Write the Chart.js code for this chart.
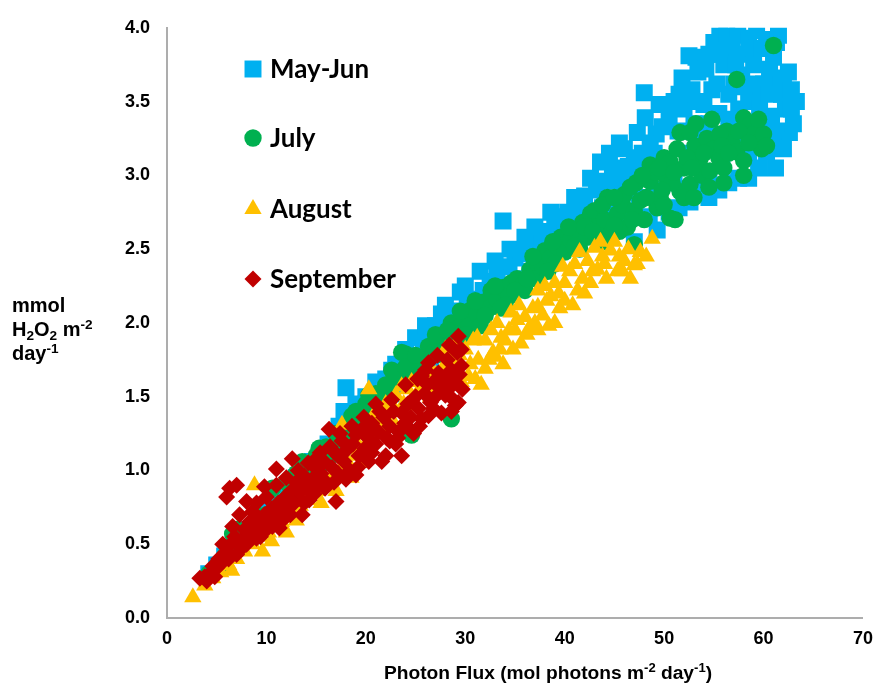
<!DOCTYPE html>
<html><head><meta charset="utf-8">
<script src="https://cdn.jsdelivr.net/npm/chart.js@4/dist/chart.umd.min.js"></script>
<style>html,body{margin:0;padding:0;background:#fff}#wrap{width:883px;height:687px;position:relative}</style>
</head><body><div id="wrap"><canvas id="c" width="883" height="687"></canvas></div>
<script>
const seriesNames = ['May-Jun', 'July', 'August', 'September'];
const seriesColors = ['#00B0F0', '#00B050', '#FFC000', '#C00000'];
const xTicks = [0, 10, 20, 30, 40, 50, 60, 70];
const yTicks = [0, 0.5, 1.0, 1.5, 2.0, 2.5, 3.0, 3.5, 4.0];

const mayJun = [
 [4.2,0.30],[5.0,0.36],[5.8,0.42],[6.6,0.48],[7.4,0.55],[8.2,0.60],[9.0,0.66],[9.8,0.72],[10.6,0.78],[11.4,0.84],
 [12.2,0.89],[13.0,0.95],[13.8,1.00],[14.6,1.06],[15.4,1.12],[16.2,1.18],[17.0,1.25],[17.3,1.30],[18.0,1.56],[18.4,1.35],
 [19.2,1.40],[20.0,1.45],[20.8,1.50],[21.5,1.55],[22.0,1.62],[22.6,1.68],[23.4,1.66],[24.2,1.72],[25.0,1.78],[25.8,1.82],
 [26.5,1.90],[27.0,1.98],[27.6,2.06],[28.4,2.02],[29.0,2.08],[29.5,2.21],[30.2,2.12],[31.0,2.16],[31.8,2.22],[32.5,2.28],
 [33.2,2.32],[33.8,2.69],[34.4,2.38],[35.0,2.44],[35.6,2.49],[36.3,2.47],[37.0,2.52],[37.6,2.58],[38.6,2.75],[38.4,2.62],
 [39.2,2.64],[40.0,2.68],[40.3,2.75],[41.0,2.70],[41.6,2.78],[42.0,2.86],[42.6,2.98],[43.2,2.90],[43.6,3.09],[44.2,2.96],
 [44.8,3.05],[45.4,2.98],[46.0,3.18],[46.4,3.06],[47.0,3.12],[47.3,3.29],[47.8,3.15],[48.1,3.39],[48.0,3.56],[48.6,3.22],
 [49.2,3.28],[49.8,3.33],[50.5,3.40],[51.0,3.50],[51.8,3.66],[51.4,3.30],[52.0,3.45],[52.5,3.81],[52.8,3.58],[53.4,3.70],
 [53.8,3.50],[55.6,3.97],[54.5,3.82],[55.0,3.90],[55.3,3.62],[56.0,3.75],[56.3,3.96],[56.8,3.86],[57.4,3.95],[57.8,3.68],
 [58.2,3.82],[58.5,3.93],[59.0,3.75],[59.3,3.98],[59.8,3.86],[60.3,3.92],[60.6,3.72],[61.3,3.90],[61.3,3.66],[61.8,3.55],
 [62.2,3.45],[62.8,3.45],[63.3,3.50],[62.6,3.29],[61.8,3.30],[60.3,3.16],[60.8,3.40],[59.5,3.55],[58.5,3.50],[57.5,3.45],
 [56.5,3.55],[55.5,3.42],[54.5,3.35],[53.6,3.25],[52.6,3.15],[53.6,2.92],[52.6,2.82],[54.5,3.00],[55.8,3.10],[57.0,3.20],
 [58.5,3.15],[59.8,3.25],[61.0,3.20],[51.0,2.95],[50.0,3.05],[49.3,2.63],[49.0,2.90],[47.5,2.85],[47.0,2.55],[46.0,2.75],
 [45.0,2.70],[44.0,2.62],[43.0,2.60],[51.5,2.78],[50.5,2.75],[48.5,2.72],[56.0,3.25],[62.0,3.62],[60.0,3.62],[57.0,3.62],
 [55.0,3.20],[53.0,3.35],
 [53.2,3.80],[54.2,3.72],[54.8,3.58],[55.6,3.82],[56.5,3.88],
 [57.2,3.75],[58.0,3.60],[59.0,3.62],[59.6,3.45],[60.5,3.55],[61.0,3.80],[61.5,3.95],[62.5,3.70],[62.8,3.58],[63.0,3.35],
 [62.0,3.18],[61.2,3.05],[59.5,3.05],[58.5,2.98],[57.5,2.98],[56.5,2.95],[55.5,2.90],[54.5,2.85],[56.5,3.38],[58.8,3.35],
 [60.5,3.30],[54.0,3.48],[52.5,3.50],[51.5,3.55],[49.5,3.48],[49.0,3.15],[48.0,3.05],[46.8,2.95],[45.8,2.88],[44.8,2.82],
 [43.8,2.78],[42.5,2.70],[41.2,2.62],[40.5,2.55],[39.5,2.50],[38.5,2.45],[37.5,2.42],[36.5,2.35],[35.5,2.30],[34.5,2.25],
 [33.5,2.20],[32.5,2.15],[31.5,2.08],[30.5,2.02],[29.5,1.96],[28.5,1.90],[27.5,1.84],[26.5,1.76],[25.5,1.70],[24.5,1.64],
 [23.5,1.58],[22.5,1.52],[21.5,1.46],[20.5,1.40],[19.5,1.34],[18.5,1.28],[17.8,1.40],[19.0,1.45],[20.0,1.50],[21.0,1.60],
 [23.0,1.72],[24.0,1.82],[25.0,1.90],[26.0,1.98],[28.0,2.12],[30.0,2.25],[31.5,2.35],[33.0,2.42],[34.5,2.50],[36.0,2.58],
 [37.0,2.65],[39.0,2.72],[41.0,2.85],[44.5,3.15],[45.5,3.22]
];
const july = [
 [4.2,0.30],[5.0,0.35],[5.6,0.34],[5.8,0.42],[6.6,0.57],[6.8,0.46],[7.6,0.52],[8.2,0.56],[8.8,0.62],[9.4,0.66],
 [10.0,0.70],[10.6,0.88],[10.8,0.74],[11.5,0.78],[12.2,0.82],[12.8,0.86],[13.6,1.06],[13.5,0.90],[14.2,0.95],[15.0,1.00],
 [15.3,1.15],[15.8,1.05],[16.5,1.10],[17.2,1.15],[17.8,1.20],[18.6,1.37],[18.5,1.24],[19.2,1.30],[19.8,1.35],[20.3,1.51],
 [20.6,1.40],[21.2,1.45],[21.8,1.50],[22.6,1.68],[22.4,1.55],[23.0,1.60],[23.6,1.80],[24.0,1.79],[23.8,1.62],[24.6,1.24],
 [24.6,1.68],[25.3,1.72],[26.0,1.76],[26.3,1.84],[26.8,1.80],[27.4,1.86],[28.0,1.90],[28.6,2.00],[28.6,1.35],[29.2,1.96],
 [29.8,2.02],[30.6,2.09],[30.4,1.98],[31.2,2.06],[31.8,2.14],[32.6,2.22],[32.4,2.10],[33.2,2.16],[33.8,2.24],[34.6,2.27],
 [34.4,2.18],[35.2,2.30],[35.8,2.26],[36.5,2.36],[37.3,2.40],[37.0,2.30],[38.0,2.49],[37.8,2.38],[38.6,2.44],[39.2,2.52],
 [39.6,2.58],[40.0,2.48],[40.6,2.56],[41.3,2.62],[41.8,2.68],[42.6,2.74],[42.2,2.58],[43.0,2.76],[43.5,2.66],[44.3,2.85],
 [44.0,2.70],[44.6,2.60],[45.3,2.74],[45.8,2.80],[46.0,2.87],[46.3,2.65],[47.0,2.53],[47.0,2.76],[47.6,2.83],[48.0,2.70],
 [48.6,3.07],[48.6,2.96],[49.3,2.78],[49.6,2.85],[49.2,3.02],[50.0,3.12],[50.3,2.98],[50.6,3.09],[50.6,2.71],[51.1,2.70],
 [51.3,3.18],[51.6,3.29],[51.6,2.89],[52.0,3.05],[52.6,3.29],[52.6,2.94],[53.1,3.20],[53.6,3.11],[53.8,3.00],[54.3,3.25],
 [54.6,3.03],[55.0,3.18],[55.5,3.12],[56.0,3.05],[56.3,3.30],[56.8,3.22],[57.3,3.16],[57.3,3.65],[58.0,3.39],[58.0,3.10],
 [58.6,3.34],[59.0,3.28],[59.3,3.22],[59.8,3.18],[60.0,3.28],[61.0,3.88],[55.6,3.28],[54.0,3.15],[52.3,3.12],[50.8,2.95],
 [49.8,2.90],[47.2,2.95],[45.5,2.62],[43.8,2.55],[41.5,2.50],[39.0,2.40],[36.0,2.22],[34.0,2.12],[31.5,1.98],
 [20.0,1.45],[21.0,1.52],[22.0,1.58],[23.0,1.66],[24.0,1.70],[25.0,1.78],[25.8,1.66],[27.0,1.92],[27.8,1.78],[28.2,1.95],
 [29.5,2.08],[30.0,1.92],[31.0,2.15],[32.0,2.05],[33.0,2.25],[33.6,2.10],[35.0,2.22],[36.2,2.30],[36.8,2.45],[38.3,2.35],
 [38.8,2.55],[40.4,2.65],[41.0,2.52],[42.0,2.65],[42.8,2.62],[43.8,2.80],[45.0,2.85],[45.0,2.66],[46.6,2.92],[46.8,2.70],
 [47.8,3.00],[48.2,2.85],[49.5,3.05],[50.0,2.80],[51.0,3.02],[52.0,2.85],[52.8,3.05],[53.2,3.35],[54.8,3.38],[55.8,3.20],
 [56.5,3.15],[57.5,3.30],[58.5,3.22],[59.5,3.38],[60.3,3.20],[58.0,3.00],[56.0,2.95],[54.5,2.92],[53.0,2.85],[15.0,1.10],
 [16.0,1.16],[17.0,1.25],[18.0,1.30],[19.0,1.40],[12.0,0.92],[9.0,0.70],[7.0,0.60],[13.0,0.98],[14.0,1.04]
];
const august = [
 [2.6,0.14],[3.8,0.22],[4.6,0.27],[5.4,0.31],[6.2,0.36],[7.0,0.40],[7.8,0.45],[8.6,0.50],[8.8,0.90],[9.6,0.45],
 [9.4,0.55],[10.2,0.58],[11.0,0.62],[11.8,0.68],[12.6,0.72],[13.4,0.76],[14.2,0.80],[15.0,0.86],[15.8,0.90],[16.6,0.95],
 [17.0,0.86],[17.6,1.31],[17.4,1.00],[18.2,1.05],[19.0,1.10],[19.8,1.15],[20.3,1.55],[20.6,1.22],[21.4,1.28],[22.2,1.34],
 [23.0,1.51],[23.0,1.40],[23.6,1.57],[23.8,1.45],[24.6,1.60],[24.6,1.48],[25.0,1.44],[25.4,1.55],[26.2,1.58],[27.0,1.55],
 [27.0,1.65],[27.8,1.70],[28.0,1.82],[28.6,1.74],[29.4,1.78],[29.6,1.60],[30.0,1.82],[30.3,1.64],[30.8,1.88],[31.0,1.62],
 [31.3,1.75],[31.6,1.58],[32.0,1.88],[32.0,1.69],[32.6,1.95],[32.8,1.80],[33.0,1.77],[33.6,1.90],[34.0,1.88],[34.6,2.07],
 [34.4,1.95],[35.2,2.02],[35.6,1.86],[36.0,2.04],[36.4,1.96],[36.8,2.10],[37.3,1.95],[37.3,2.11],[37.3,2.22],[37.8,2.05],
 [38.2,2.15],[38.6,2.18],[39.0,2.00],[39.0,2.27],[39.5,2.10],[40.0,2.15],[40.0,2.27],[40.5,2.35],[41.0,2.40],[41.3,2.22],
 [41.8,2.30],[42.3,2.42],[42.6,2.27],[43.0,2.51],[43.3,2.36],[43.8,2.45],[44.2,2.30],[44.6,2.49],[45.3,2.35],[45.5,2.45],
 [46.0,2.42],[46.6,2.30],[47.0,2.39],[47.3,2.40],[48.8,2.57],[35.0,1.95],[33.5,1.82],[29.0,1.75],[26.5,1.68],[22.5,1.42],
 [21.0,1.35],[19.0,1.20],[16.5,0.95],[14.0,0.82],[11.5,0.65],[6.5,0.32],
 [20.0,1.30],[21.0,1.40],[22.0,1.45],[23.0,1.30],[24.2,1.55],[25.8,1.62],[26.5,1.50],[27.5,1.58],[28.2,1.65],[29.0,1.85],
 [30.5,1.72],[31.2,1.90],[32.4,1.75],[33.2,2.00],[33.8,1.72],[34.8,1.82],[35.4,2.12],[36.2,1.92],[37.0,2.00],[38.0,2.25],
 [38.4,1.98],[39.4,2.20],[39.8,2.38],[40.8,2.12],[41.5,2.48],[42.0,2.20],[42.8,2.35],[43.6,2.55],[44.0,2.40],[45.0,2.55],
 [45.8,2.35],[46.4,2.50],[47.6,2.48],[48.2,2.45],[10.5,0.52],[12.0,0.58],[13.0,0.66],[15.5,0.78],[18.5,0.95],[19.5,1.05]
];
const september = [
 [3.3,0.27],[3.8,0.28],[4.3,0.30],[4.6,0.35],[5.0,0.34],[5.2,0.40],[5.6,0.50],[5.6,0.42],[6.0,0.82],[6.0,0.45],
 [6.3,0.88],[6.4,0.50],[6.8,0.55],[7.0,0.90],[7.0,0.43],[7.3,0.70],[7.4,0.52],[7.8,0.60],[8.0,0.79],[8.0,0.50],
 [8.3,0.65],[8.5,0.58],[8.8,0.62],[9.0,0.54],[9.2,0.68],[9.5,0.62],[9.8,0.89],[9.8,0.70],[10.0,0.60],[10.3,0.66],
 [10.5,0.74],[10.8,0.68],[11.0,1.01],[11.2,0.78],[11.3,0.61],[11.6,0.72],[11.9,0.82],[12.2,0.75],[12.5,0.86],[12.6,1.08],
 [12.8,0.78],[13.0,0.92],[13.3,0.85],[13.6,0.70],[13.8,0.96],[14.0,0.88],[14.3,0.80],[14.6,0.94],[14.9,1.02],[15.2,0.90],
 [15.5,0.98],[15.8,1.06],[16.0,0.92],[16.3,1.28],[16.6,1.02],[16.9,1.12],[17.0,0.79],[17.2,0.98],[17.6,1.20],[17.8,1.06],
 [18.1,1.14],[18.4,1.00],[18.7,1.18],[19.0,0.97],[19.0,1.24],[19.3,1.10],[19.6,1.28],[19.9,1.15],[20.2,1.22],[20.3,1.06],
 [20.6,1.32],[21.0,1.45],[21.0,1.18],[21.3,1.26],[21.6,1.06],[21.8,1.36],[22.1,1.22],[22.4,1.30],[22.8,1.40],[23.0,1.18],
 [23.3,1.26],[23.6,1.39],[23.6,1.10],[23.9,1.32],[24.2,1.45],[24.5,1.36],[24.8,1.25],[25.0,1.50],[25.3,1.42],[25.6,1.64],
 [25.6,1.35],[25.9,1.52],[26.3,1.73],[26.3,1.37],[26.5,1.46],[26.8,1.60],[27.0,1.50],[27.3,1.66],[27.6,1.39],[27.8,1.58],
 [28.0,1.51],[28.2,1.75],[28.3,1.55],[28.6,1.68],[28.8,1.48],[29.0,1.44],[29.0,1.60],[29.2,1.80],[29.3,1.91],[29.3,1.46],
 [29.6,1.82],[29.6,1.71],[29.7,1.55],
 [4.0,0.25],[4.8,0.28],[5.3,0.36],[6.2,0.40],[6.6,0.62],[7.6,0.48],[8.2,0.55],[8.6,0.72],[9.0,0.78],[9.4,0.55],
 [10.0,0.82],[10.6,0.62],[11.0,0.90],[11.6,0.66],[12.0,0.95],[12.4,0.70],[13.2,1.00],[13.8,0.78],[14.2,1.05],[14.8,0.84],
 [15.4,1.12],[15.9,0.88],[16.4,1.16],[16.8,0.92],[17.4,1.25],[18.0,0.94],[18.6,1.30],[19.2,1.02],[19.8,1.36],[20.6,1.12],
 [21.4,1.40],[22.0,1.10],[22.6,1.48],[23.2,1.22],[24.0,1.58],[24.4,1.28],[25.2,1.62],[25.4,1.30],[26.0,1.68],[26.8,1.42],
 [27.2,1.78],[27.6,1.55],[28.4,1.85],[28.6,1.40],[29.4,1.65],[28.0,1.62],[26.2,1.58],[22.4,1.20],[20.8,1.28],[17.2,1.10],
 [15.0,1.08]
];

const seriesData = [mayJun, july, august, september];
const pointShapes = ['rect', 'circle', 'triangle', 'rectRot'];
const pointSizes = [12, 8.7, 10, 8.5];

const tickFont = {family: '"Liberation Sans", Arial, sans-serif', size: 18, weight: 'bold'};

function drawRich(ctx, parts, x, y, size, align) {
  const fam = '"Liberation Sans", Arial, sans-serif';
  let total = 0;
  parts.forEach(p => {
    const s = (p.sup || p.sub) ? size * 0.68 : size;
    ctx.font = 'bold ' + s + 'px ' + fam;
    p.w = ctx.measureText(p.t).width; p.s = s; total += p.w;
  });
  let cx = align === 'center' ? x - total / 2 : x;
  ctx.textBaseline = 'alphabetic';
  ctx.textAlign = 'left';
  parts.forEach(p => {
    ctx.font = 'bold ' + p.s + 'px ' + fam;
    let dy = 0;
    if (p.sup) dy = -size * 0.36;
    if (p.sub) dy = size * 0.2;
    ctx.fillText(p.t, cx, y + dy);
    cx += p.w;
  });
}

function drawMarker(ctx, shape, x, y, r) {
  ctx.beginPath();
  if (shape === 'rect') {
    const s = r * Math.SQRT1_2;
    ctx.rect(x - s, y - s, 2 * s, 2 * s);
  } else if (shape === 'circle') {
    ctx.arc(x, y, r, 0, Math.PI * 2);
  } else if (shape === 'triangle') {
    for (let k = 0; k < 3; k++) {
      const a = k * 2 * Math.PI / 3;
      const px = x + Math.sin(a) * r, py = y - Math.cos(a) * r;
      k === 0 ? ctx.moveTo(px, py) : ctx.lineTo(px, py);
    }
    ctx.closePath();
  } else {
    ctx.moveTo(x, y - r); ctx.lineTo(x + r, y); ctx.lineTo(x, y + r); ctx.lineTo(x - r, y); ctx.closePath();
  }
  ctx.fill();
}

const extras = {
  id: 'extras',
  afterDraw(chart) {
    const ctx = chart.ctx;
    ctx.save();
    ctx.fillStyle = '#000';
    // y axis title
    drawRich(ctx, [{t: 'mmol'}], 12, 312, 20);
    drawRich(ctx, [{t: 'H'}, {t: '2', sub: true}, {t: 'O'}, {t: '2', sub: true}, {t: ' m'}, {t: '-2', sup: true}], 12, 336, 20);
    drawRich(ctx, [{t: 'day'}, {t: '-1', sup: true}], 12, 360, 20);
    // x axis title
    drawRich(ctx, [{t: 'Photon Flux (mol photons m'}, {t: '-2', sup: true}, {t: ' day'}, {t: '-1', sup: true}, {t: ')'}], 548, 679, 19.2, 'center');
    // legend
    const rows = [69, 138, 209, 279];
    const lf = '"Lato", "Open Sans", sans-serif';
    ctx.font = 'bold 22px ' + lf;
    const w = ctx.measureText('September').width;
    const fs = 22 * 126 / w;
    for (let i = 0; i < seriesNames.length; i++) {
      ctx.fillStyle = seriesColors[i];
      drawMarker(ctx, pointShapes[i], 253, rows[i], pointSizes[i]);
      ctx.fillStyle = '#000';
      ctx.font = 'bold ' + fs + 'px ' + lf;
      ctx.textBaseline = 'middle';
      ctx.textAlign = 'left';
      ctx.fillText(seriesNames[i], 270, rows[i] + 1);
    }
    ctx.restore();
  }
};

new Chart(document.getElementById('c'), {
  type: 'scatter',
  data: {
    datasets: seriesData.map((d, i) => ({
      label: seriesNames[i],
      data: d.map(p => ({x: p[0], y: p[1]})),
      pointStyle: pointShapes[i],
      pointRadius: pointSizes[i],
      pointHoverRadius: pointSizes[i],
      backgroundColor: seriesColors[i],
      borderColor: seriesColors[i],
      pointBorderWidth: 0,
      borderWidth: 0,
      showLine: false,
      order: seriesData.length - i
    }))
  },
  options: {
    responsive: false,
    animation: false,
    events: [],
    layout: {padding: {top: 22, right: 16, left: 0, bottom: 0}},
    plugins: {legend: {display: false}, tooltip: {enabled: false}},
    scales: {
      x: {
        type: 'linear', min: 0, max: 70,
        afterBuildTicks: s => { s.ticks = xTicks.map(v => ({value: v})); },
        afterFit: s => { s.height = 69; },
        grid: {display: false, drawTicks: false},
        border: {display: true, color: '#ADADAD', width: 2},
        ticks: {font: tickFont, color: '#000', padding: 10, maxRotation: 0, callback: v => String(v)}
      },
      y: {
        type: 'linear', min: 0, max: 4,
        afterBuildTicks: s => { s.ticks = yTicks.map(v => ({value: v})); },
        afterFit: s => { s.width = 167; },
        grid: {display: false, drawTicks: false},
        border: {display: true, color: '#ADADAD', width: 2},
        ticks: {font: tickFont, color: '#000', padding: 17, callback: v => Number(v).toFixed(1)}
      }
    }
  },
  plugins: [extras]
});
</script>
</body></html>
